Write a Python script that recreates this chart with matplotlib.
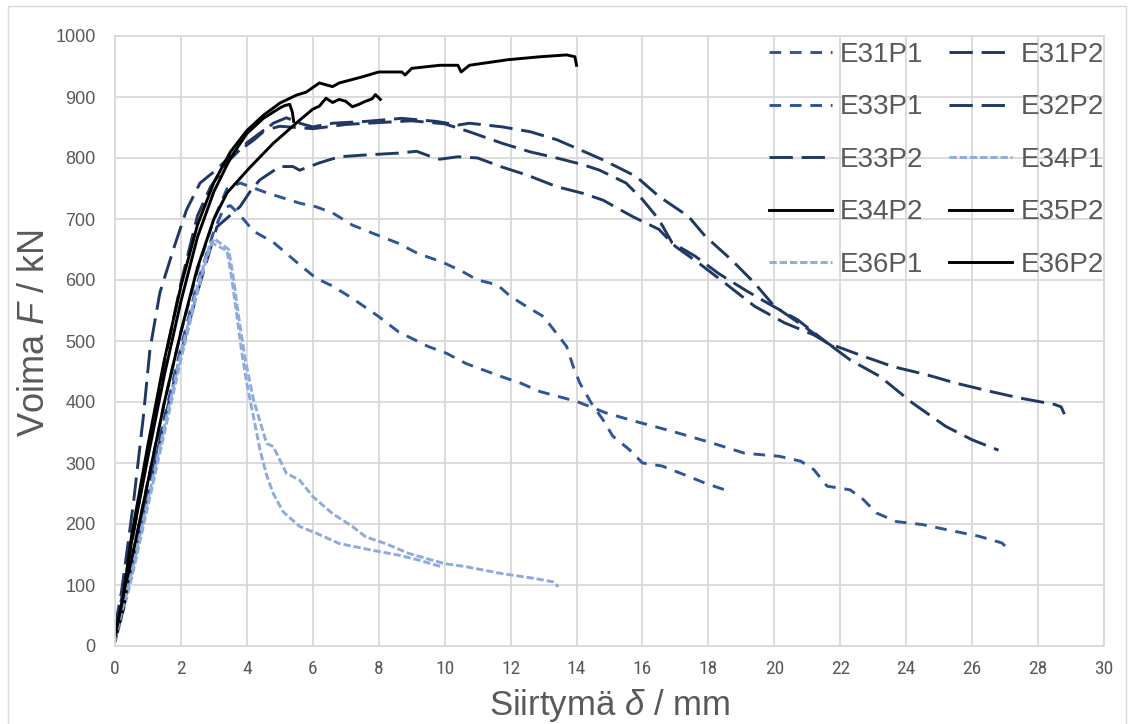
import matplotlib
matplotlib.use("Agg")
import matplotlib.pyplot as plt
from matplotlib.patches import Rectangle
from matplotlib import font_manager

# ---------------- data ----------------
x_ticks = list(range(0, 31, 2))
y_ticks = list(range(0, 1001, 100))

e31p1_x = [0, 0.5, 1, 1.5, 2, 2.5, 3, 3.4, 3.8, 4.6, 5.6, 6.1, 6.6, 7.2, 7.8, 8.6, 9.2, 9.9, 10.5, 11, 11.6,
           12, 12.5, 13, 13.3, 13.7, 13.9, 14.1, 14.45, 14.8, 15.1, 15.6, 16, 16.6, 17.4, 17.9, 18.5]
e31p1_y = [20, 140, 270, 400, 515, 615, 700, 750, 759, 743, 726, 720, 710, 690, 677, 660, 643, 630, 615, 600, 592,
           573, 556, 540, 519, 491, 458, 431, 398, 371, 344, 322, 300, 295, 278, 267, 256]

e33p1_x = [0, 0.5, 1, 1.5, 2, 2.5, 3, 3.3, 3.5, 3.8, 4.2, 4.8, 5.6, 6.1, 6.6, 7.2, 8.0, 8.6, 9.5, 10.05, 10.65,
           11.7, 12.3, 12.9, 14, 14.9, 15.8, 16.9, 18.1, 19.1, 20.15, 20.8, 21.2, 21.6, 22.3, 22.7, 23.1, 23.7,
           24.5, 25.2, 26.2, 26.9, 27.0]
e33p1_y = [10, 125, 255, 375, 490, 595, 680, 718, 722, 706, 680, 662, 625, 603, 590, 570, 540, 515, 491, 480, 463,
           442, 431, 417, 401, 382, 368, 352, 333, 316, 311, 303, 289, 262, 256, 240, 218, 204,
           199, 191, 180, 169, 164]

e31p2_x = [0, 0.2, 0.4, 0.56, 0.86, 1.06, 1.36, 1.77, 2.17, 2.58, 3.08, 3.38, 3.58, 4.2, 4.8, 5.2, 5.6, 6.0,
           6.6, 7.6, 8.7, 9.75, 10.4, 10.75, 11.75, 12.6, 13.4, 14, 14.8, 15.8, 16.5, 17.4, 17.9, 18.7, 19.4,
           20, 20.9, 21.6, 22.3, 23.2, 24.2, 25.2, 26, 26.8]
e31p2_y = [30, 90, 170, 235, 376, 486, 579, 650, 715, 759, 781, 797, 805, 829, 857, 866, 857, 851,
           857, 860, 865, 860, 854, 857, 851, 843, 830, 816, 797, 770, 737, 704, 672, 633, 595,
           557, 524, 497, 469, 442, 398, 360, 338, 321]

e32p2_x = [0, 0.5, 1, 1.5, 2, 2.5, 2.9, 3.5, 4, 4.5, 5, 5.5, 6, 7, 8, 9, 10, 10.75, 11.75, 12.6, 13.4, 14.2,
           14.7, 15.5, 16, 16.5, 16.9, 17.6, 18.3, 19.1, 19.8, 20.7, 21.6, 21.8]
e32p2_y = [20, 165, 320, 465, 595, 705, 753, 798, 825, 845, 852, 850, 848, 855, 858, 861, 856, 843, 824, 810,
           800, 789, 780, 759, 732, 699, 661, 639, 611, 584, 562, 535, 497, 490]

e33p2_x = [0, 0.5, 1, 1.5, 2, 2.5, 3.09, 3.79, 4.1, 4.39, 5.0, 5.4, 5.6, 6.2, 6.8, 7.6, 8.6, 9.15, 9.6, 9.85,
           10.4, 11, 11.75, 12.5, 13.4, 14.2, 14.8, 15.7, 16.5, 17.0, 17.7, 18.5, 19.4, 20.3, 21.2, 21.6,
           22.7, 23.6, 24.6, 25.5, 26.5, 27.4, 28.5, 28.7, 28.8]
e33p2_y = [15, 120, 250, 370, 480, 580, 687, 720, 745, 764, 786, 786, 780, 792, 802, 805, 808, 811, 802, 798,
           802, 800, 785, 772, 753, 742, 731, 704, 683, 655, 628, 595, 557, 530, 510, 497,
           475, 458, 445, 431, 418, 407, 396, 392, 380]

e34p1_x = [0, 0.5, 1, 1.5, 2, 2.5, 2.8, 3.0, 3.45, 3.6, 3.75, 3.95, 4.2, 4.6, 4.8, 5.2, 5.6, 6.0, 6.6, 7.2,
           7.6, 8.2, 8.9, 9.6, 10.0, 10.65, 11.7, 12.7, 13.3, 13.45]
e34p1_y = [5, 110, 230, 350, 470, 580, 640, 668, 650, 600, 540, 470, 404, 332, 327, 283, 272, 245, 217, 196,
           179, 168, 152, 141, 135, 130, 119, 111, 105, 97]

e36p1_x = [0, 0.5, 1, 1.5, 2, 2.5, 2.9, 3.4, 3.55, 3.7, 3.85, 4.0, 4.2, 4.4, 4.6, 4.8, 5.1, 5.6, 6.1, 6.8,
           7.8, 8.6, 9.2, 9.9]
e36p1_y = [10, 120, 240, 360, 480, 590, 662, 648, 600, 540, 480, 430, 376, 321, 280, 250, 220, 196, 185, 168,
           157, 149, 141, 130]

e34p2_x = [0, 0.25, 0.5, 1, 1.5, 2, 2.5, 3, 3.5, 4, 4.5, 5, 5.15, 5.3, 5.38, 5.42]
e34p2_y = [20, 80, 170, 310, 445, 565, 670, 745, 800, 840, 865, 882, 886, 888, 875, 860]

e35p2_x = [0, 0.25, 0.5, 1, 1.5, 2, 2.5, 3, 3.4, 4.1, 4.8, 5.6, 6.0, 6.2, 6.4, 6.6, 6.8, 7.0, 7.2, 7.4, 7.6,
           7.8, 7.9, 8.05]
e35p2_y = [10, 60, 140, 270, 400, 515, 620, 700, 743, 785, 824, 862, 880, 885, 898, 891, 896, 893, 884, 888, 893,
           897, 904, 896]

e36p2_x = [0, 0.25, 0.5, 1, 1.5, 2, 2.5, 3, 3.5, 4, 4.5, 5, 5.5, 5.8, 6.2, 6.6, 6.8, 7.5, 8.0, 8.7, 8.8, 9.0,
           9.85, 10.4, 10.5, 10.75, 11.9, 12.9, 13.7, 13.95, 14.0]
e36p2_y = [15, 80, 180, 330, 470, 590, 690, 760, 810, 845, 870, 890, 903, 908, 923, 917, 923, 933, 941, 941, 936,
           947, 952, 952, 941, 952, 961, 966, 969, 966, 952]

# ---------------- style ----------------
def pick(*names):
    avail = {f.name for f in font_manager.fontManager.ttflist}
    for n in names:
        if n in avail:
            return n
    return "DejaVu Sans"

FONT = pick("Liberation Sans", "Arial", "DejaVu Sans")
NARROW = pick("Liberation Sans Narrow", "Roboto Condensed", "Open Sans Condensed", FONT)

plt.rcParams['font.family'] = [FONT, 'DejaVu Sans']
plt.rcParams['mathtext.fontset'] = 'custom'
plt.rcParams['mathtext.rm'] = FONT
plt.rcParams['mathtext.it'] = FONT + ':italic'

MID = '#2F5597'
DARK = '#1F3864'
LIGHT = '#8FAADC'
TXT = '#595959'
GRID = '#D9D9D9'
LW = 2.1

series = [
    ("E31P1", e31p1_x, e31p1_y, MID, (4, 3)),
    ("E31P2", e31p2_x, e31p2_y, DARK, (8, 3)),
    ("E33P1", e33p1_x, e33p1_y, MID, (4, 3)),
    ("E32P2", e32p2_x, e32p2_y, DARK, (8, 3)),
    ("E33P2", e33p2_x, e33p2_y, DARK, (8, 3)),
    ("E34P1", e34p1_x, e34p1_y, LIGHT, (2.5, 1)),
    ("E34P2", e34p2_x, e34p2_y, 'black', None),
    ("E35P2", e35p2_x, e35p2_y, 'black', None),
    ("E36P1", e36p1_x, e36p1_y, LIGHT, (2.5, 1)),
    ("E36P2", e36p2_x, e36p2_y, 'black', None),
]

fig = plt.figure(figsize=(11.31, 7.24), dpi=100)
ax = fig.add_axes([115 / 1131, 1 - 646 / 724, (1104 - 115) / 1131, (646 - 36) / 724])

handles = {}
for name, xs, ys, col, dash in series:
    if dash is None:
        ln, = ax.plot(xs, ys, color=col, lw=LW, solid_joinstyle='round', label=name)
    else:
        ln, = ax.plot(xs, ys, color=col, lw=LW, linestyle=(0, dash), dash_capstyle='butt', label=name)
    handles[name] = ln

ax.set_xlim(0, 30)
ax.set_ylim(0, 1000)
ax.set_xticks(x_ticks)
ax.set_yticks(y_ticks)
ax.grid(True, color=GRID, lw=1.3)
ax.set_axisbelow(True)
for s in ax.spines.values():
    s.set_color(GRID)
    s.set_linewidth(1.3)
ax.tick_params(length=0, colors=TXT)
ax.tick_params(axis='y', pad=14, labelsize=13)
ax.tick_params(axis='x', pad=10, labelsize=14)
for lab in ax.get_xticklabels():
    lab.set_fontfamily(NARROW)

# legend: row-major order in 2 columns -> reorder to column-major
order = ["E31P1", "E33P1", "E33P2", "E34P2", "E36P1",
         "E31P2", "E32P2", "E34P1", "E35P2", "E36P2"]
leg = ax.legend([handles[n] for n in order], order, ncol=2, loc='upper right',
                bbox_to_anchor=(1.0, 0.99), frameon=False, fontsize=20,
                handlelength=2.27, handletextpad=0.29, columnspacing=0.93,
                labelspacing=0.95, borderpad=0.0, borderaxespad=0.0)
for t in leg.get_texts():
    t.set_color(TXT)

fig.text(35 / 1131, 1 - 333 / 724, "Voima $F$ / kN", rotation=90, ha='center', va='center',
         fontsize=26, color=TXT)
fig.text(609.5 / 1131, 1 - 705 / 724, "Siirtymä $\\delta$ / mm", ha='center', va='center',
         fontsize=25, color=TXT)

fig.patches.append(Rectangle((8 / 1131, -0.05), (1126 - 8) / 1131, 1.05 - 6 / 724,
                             transform=fig.transFigure, fill=False, edgecolor=GRID, lw=1.0))

fig.savefig("out.png", dpi=100)
